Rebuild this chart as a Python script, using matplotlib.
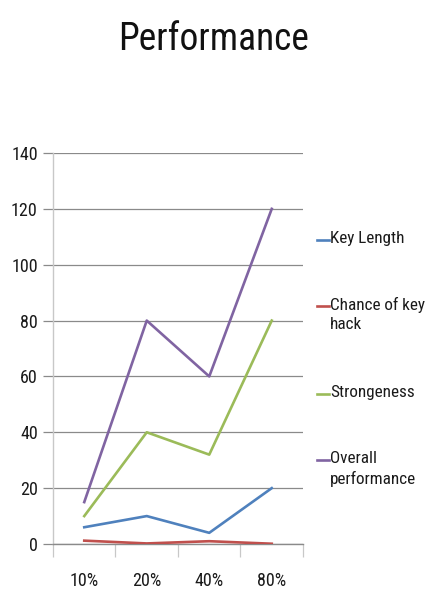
import numpy as np
import matplotlib.pyplot as plt
from matplotlib.lines import Line2D
from matplotlib.ticker import MultipleLocator, FixedLocator

# -------------------- Font settings ---------------------
plt.rcParams['font.family'] = ['Roboto Condensed', 'Carlito', 'DejaVu Sans']

# ================= Data =================
levels = ['10%', '20%', '40%', '80%']
key_length = [6, 10, 4, 20]
chance_of_hack = [1.2, 0.2, 1.0, 0.1]
strongeness = [10, 40, 32, 80]
overall = [15, 80, 60, 120]

series = [
    ('Key Length', key_length, '#4F81BD'),
    ('Chance of key\nhack', chance_of_hack, '#C0504D'),
    ('Strongeness', strongeness, '#9BBB59'),
    ('Overall\nperformance', overall, '#8064A2'),
]

# ============ Plotting ======================
W, H = 427, 592
fig = plt.figure(figsize=(W / 100, H / 100), dpi=100)

# plot area in pixels: x 53..303, y 153..544
left, right, top, bottom = 53, 303, 153, 544
ax = fig.add_axes([left / W, 1 - bottom / H, (right - left) / W, (bottom - top) / H])

x = np.arange(len(levels))
for name, vals, col in series:
    ax.plot(x, vals, color=col, linewidth=1.9, zorder=3)

ax.set_xlim(-0.5, len(levels) - 0.5)
ax.set_ylim(0, 140)
ax.yaxis.set_major_locator(MultipleLocator(20))
ax.grid(True, axis='y', color='#8a8a8a', linewidth=0.9, zorder=0)

ax.set_xticks(x)
ax.set_xticklabels(levels)
ax.xaxis.set_minor_locator(FixedLocator(np.arange(-0.5, len(levels), 1.0)))

for side in ['top', 'right']:
    ax.spines[side].set_visible(False)
ax.spines['left'].set_color('#c8c8c8')
ax.spines['bottom'].set_color('#8a8a8a')
ax.spines['left'].set_linewidth(1.0)
ax.spines['bottom'].set_linewidth(1.0)

ax.tick_params(axis='y', which='major', length=7, width=0.9, color='#8a8a8a',
               labelsize=13, labelcolor='#1a1a1a', pad=4)
ax.tick_params(axis='x', which='major', length=0, labelsize=13,
               labelcolor='#1a1a1a', pad=20)
ax.tick_params(axis='x', which='minor', length=9, width=0.9, color='#c8c8c8')

fig.text(0.5, 1 - 50 / H, 'Performance', ha='center', va='baseline',
         fontsize=27, color='#111111')

# legend drawn by hand so the key sits beside the first line of each label
line_h, gap = 22, 44
y = 240
for name, vals, col in series:
    yf = 1 - y / H
    fig.add_artist(Line2D([317 / W, 329 / W], [yf, yf], color=col,
                          linewidth=1.9, transform=fig.transFigure))
    fig.text(330 / W, 1 - (y - 9) / H, name, ha='left', va='top',
             fontsize=12.3, color='#1a1a1a', linespacing=1.35)
    y += line_h * (name.count('\n') + 1) + gap

fig.savefig('out.png', dpi=100)
